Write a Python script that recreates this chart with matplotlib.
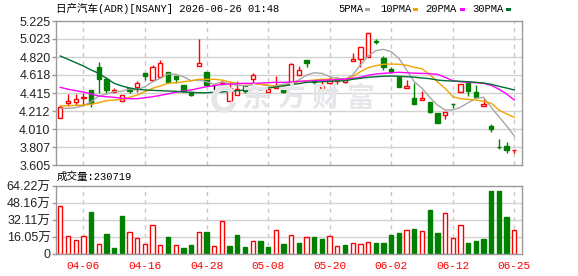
"""
NSANY daily K-line with moving averages and volume
"""

import matplotlib
matplotlib.use('Agg')
import matplotlib.pyplot as plt
from matplotlib.patches import Rectangle, Arc
import numpy as np

W, H = 578, 276

title = '日产汽车(ADR)[NSANY] 2026-06-26 01:48'
vol_title = '成交量:230719'

# daily prices (open / high / low / close)
opens = [4.130, 4.299, 4.317, 4.362, 4.449, 4.704, 4.569, 4.430, 4.322, 4.471,
         4.486, 4.640, 4.558, 4.598, 4.651, 4.606, 4.502, 4.418, 4.715, 4.651,
         4.505, 4.520, 4.322, 4.389, 4.490, 4.569, 4.475, 4.430, 4.468, 4.457,
         4.524, 4.614, 4.783, 4.545, 4.468, 4.531, 4.550, 4.539, 4.778, 4.801,
         4.817, 5.000, 4.812, 4.685, 4.598, 4.468, 4.359, 4.333, 4.314, 4.187,
         4.164, 4.290, 4.423, 4.524, 4.426, 4.265, 4.044, 3.807, 3.819, 3.770]
highs = [4.280, 4.404, 4.404, 4.418, 4.449, 4.764, 4.592, 4.468, 4.396, 4.471,
         4.550, 4.640, 4.727, 4.786, 4.651, 4.606, 4.502, 4.418, 5.022, 4.651,
         4.505, 4.561, 4.539, 4.550, 4.490, 4.640, 4.486, 4.460, 4.606, 4.464,
         4.756, 4.719, 4.783, 4.560, 4.561, 4.592, 4.598, 4.580, 4.862, 4.929,
         5.087, 5.022, 4.831, 4.711, 4.598, 4.558, 4.524, 4.437, 4.314, 4.187,
         4.201, 4.290, 4.513, 4.542, 4.502, 4.344, 4.066, 3.897, 3.860, 3.777]
lows = [4.130, 4.269, 4.280, 4.280, 4.258, 4.418, 4.412, 4.430, 4.322, 4.418,
        4.423, 4.561, 4.558, 4.598, 4.535, 4.524, 4.423, 4.385, 4.715, 4.500,
        4.445, 4.437, 4.322, 4.389, 4.412, 4.524, 4.449, 4.430, 4.468, 4.412,
        4.524, 4.614, 4.711, 4.520, 4.468, 4.516, 4.513, 4.530, 4.778, 4.711,
        4.817, 4.966, 4.674, 4.636, 4.486, 4.468, 4.295, 4.333, 4.193, 4.081,
        4.126, 4.243, 4.423, 4.385, 4.373, 4.265, 3.980, 3.782, 3.743, 3.743]
closes = [4.254, 4.325, 4.344, 4.367, 4.299, 4.576, 4.449, 4.445, 4.396, 4.434,
          4.524, 4.610, 4.704, 4.752, 4.535, 4.573, 4.437, 4.396, 4.749, 4.500,
          4.505, 4.530, 4.471, 4.457, 4.441, 4.614, 4.465, 4.457, 4.494, 4.430,
          4.738, 4.674, 4.756, 4.535, 4.494, 4.569, 4.580, 4.576, 4.798, 4.929,
          5.087, 4.990, 4.711, 4.651, 4.486, 4.497, 4.295, 4.359, 4.205, 4.081,
          4.201, 4.286, 4.513, 4.434, 4.373, 4.295, 4.007, 3.802, 3.777, 3.777]

# moving averages as drawn
ma5 = [4.243, 4.243, 4.250, 4.272, 4.317, 4.381, 4.404, 4.430, 4.434, 4.460,
       4.449, 4.486, 4.542, 4.580, 4.629, 4.625, 4.598, 4.553, 4.561, 4.542,
       4.513, 4.542, 4.516, 4.502, 4.497, 4.505, 4.513, 4.494, 4.497, 4.513,
       4.524, 4.561, 4.617, 4.643, 4.636, 4.598, 4.576, 4.569, 4.617, 4.730,
       4.831, 4.891, 4.906, 4.880, 4.805, 4.674, 4.542, 4.468, 4.367, 4.280,
       4.224, 4.224, 4.254, 4.306, 4.355, 4.367, 4.254, 4.148, 4.044, 3.931]
ma10 = [4.270, 4.272, 4.275, 4.278, 4.288, 4.306, 4.329, 4.336, 4.344, 4.367,
        4.392, 4.430, 4.468, 4.494, 4.524, 4.531, 4.542, 4.553, 4.569, 4.569,
        4.569, 4.561, 4.539, 4.524, 4.520, 4.516, 4.513, 4.505, 4.486, 4.494,
        4.516, 4.542, 4.553, 4.561, 4.569, 4.569, 4.565, 4.569, 4.598, 4.655,
        4.700, 4.722, 4.738, 4.741, 4.738, 4.727, 4.704, 4.688, 4.625, 4.542,
        4.468, 4.373, 4.351, 4.344, 4.336, 4.322, 4.299, 4.224, 4.179, 4.142]
ma20 = [4.479, 4.457, 4.441, 4.426, 4.404, 4.381, 4.373, 4.367, 4.355, 4.351,
        4.351, 4.362, 4.373, 4.389, 4.404, 4.423, 4.437, 4.449, 4.468, 4.486,
        4.497, 4.513, 4.516, 4.520, 4.524, 4.524, 4.527, 4.531, 4.535, 4.535,
        4.539, 4.546, 4.550, 4.553, 4.558, 4.561, 4.565, 4.573, 4.580, 4.592,
        4.614, 4.629, 4.636, 4.643, 4.648, 4.643, 4.638, 4.636, 4.632, 4.625,
        4.592, 4.553, 4.542, 4.535, 4.531, 4.524, 4.502, 4.457, 4.404, 4.336]
ma30 = [4.831, 4.794, 4.756, 4.719, 4.674, 4.636, 4.580, 4.524, 4.494, 4.471,
        4.457, 4.449, 4.445, 4.441, 4.437, 4.434, 4.426, 4.423, 4.418, 4.418,
        4.423, 4.426, 4.434, 4.441, 4.449, 4.457, 4.464, 4.471, 4.482, 4.494,
        4.509, 4.520, 4.535, 4.539, 4.542, 4.546, 4.550, 4.553, 4.569, 4.580,
        4.592, 4.598, 4.603, 4.606, 4.603, 4.598, 4.593, 4.584, 4.576, 4.561,
        4.553, 4.550, 4.546, 4.542, 4.535, 4.527, 4.513, 4.490, 4.471, 4.449]

# volume in 万, and whether the bar is red (close above previous close)
volumes = [45.3, 17.0, 12.9, 17.0, 39.7, 9.2, 18.9, 5.7, 35.9, 20.5,
           14.8, 9.2, 27.1, 8.2, 16.0, 8.2, 5.7, 8.2, 20.5, 20.8,
           7.3, 30.9, 7.6, 17.9, 6.6, 12.0, 12.3, 6.6, 22.4, 9.4,
           17.7, 10.4, 15.8, 15.8, 14.2, 17.0, 7.3, 8.5, 10.1, 9.2,
           11.3, 10.4, 10.4, 17.9, 20.1, 22.4, 23.6, 21.4, 41.6, 20.1,
           38.4, 14.8, 27.1, 10.4, 12.3, 14.2, 59.5, 59.5, 35.0, 23.07]
vol_up = [1, 1, 1, 1, 0, 1, 0, 0, 0, 1,
          1, 1, 1, 1, 0, 1, 0, 0, 1, 0,
          1, 1, 0, 0, 0, 1, 0, 0, 1, 0,
          1, 0, 1, 0, 0, 1, 1, 0, 1, 1,
          1, 0, 0, 0, 0, 1, 0, 1, 0, 0,
          1, 1, 1, 0, 0, 0, 0, 0, 0, 1]

price_labels = ['3.605', '3.807', '4.010', '4.212', '4.415', '4.618', '4.820', '5.023', '5.225']
vol_ticks = [0, 16.05, 32.11, 48.16, 64.22]
vol_labels = ['0', '16.05万', '32.11万', '48.16万', '64.22万']
date_idx = [3, 11, 19, 27, 35, 43, 51, 59]
date_labels = ['04-06', '04-16', '04-28', '05-08', '05-20', '06-02', '06-12', '06-25']

ma_names = ['5PMA', '10PMA', '20PMA', '30PMA']
ma_colors = ['#a6a6a6', '#f2a400', '#ff00ff', '#006e33']

RED = '#ff0000'
GREEN = '#008000'
GRID = '#d2d2d2'
FRAME = '#9a9a9a'
WATERMARK = '#e6e6ea'
MONO_CJK = ['Liberation Mono', 'Noto Sans CJK SC']
SANS_CJK = ['Liberation Sans', 'Noto Sans CJK SC']


def px(x, y):
    return x / W, 1 - y / H


def style_axes(ax):
    for s in ax.spines.values():
        s.set_color(FRAME)
        s.set_linewidth(1)
    ax.tick_params(axis='y', length=3, width=1, color=FRAME, pad=1,
                   labelsize=9, labelcolor='#222222')
    ax.set_xlim(-0.56, len(closes))
    for i in date_idx:
        ax.axvline(i, color='#c8c8c8', lw=1, ls=(0, (3, 3)), zorder=0)


fig = plt.figure(figsize=(W / 100, H / 100), dpi=100)
ax = fig.add_axes([56 / W, 1 - 165 / H, 466 / W, 144 / H])
axv = fig.add_axes([56 / W, 1 - 254 / H, 466 / W, 68 / H])

# ---- price panel ----
style_axes(ax)
pt = [float(v) for v in price_labels]
ax.set_ylim(pt[0], pt[-1])
ax.set_yticks(pt)
ax.set_yticklabels(price_labels, family='Liberation Sans')
ax.set_xticks([])
for v in pt[1:-1]:
    ax.axhline(v, color=GRID, lw=1, zorder=0)

# watermark (logo ring + name)
fig.patches.append(Arc(px(224, 99), 20 / W, 22 / H, theta1=60, theta2=330,
                       transform=fig.transFigure, color=WATERMARK, lw=4, zorder=0))
for k, ch in enumerate('东方财富'):
    fig.text(*px(255.5 + 35 * k, 99), ch, ha='center', va='center', fontsize=20,
             weight='bold', family='Noto Sans CJK SC', color=WATERMARK, zorder=0)

x = np.arange(len(closes))
bw = 0.56
for i in x:
    o, h, l, c = opens[i], highs[i], lows[i], closes[i]
    if c > o:
        ax.vlines(i, c, h, color=RED, lw=1, zorder=2)
        ax.vlines(i, l, o, color=RED, lw=1, zorder=2)
        ax.bar(i, c - o, bottom=o, width=bw, facecolor='white', edgecolor=RED,
               lw=1, zorder=2)
    elif c < o:
        ax.vlines(i, l, h, color=GREEN, lw=1, zorder=2)
        ax.bar(i, o - c, bottom=c, width=bw, facecolor=GREEN, edgecolor=GREEN,
               lw=1, zorder=2)
    else:
        ax.vlines(i, l, h, color='black', lw=1, zorder=2)
        ax.hlines(o, i - bw / 2, i + bw / 2, color='black', lw=1, zorder=2)

for series, col in zip([ma5, ma10, ma20, ma30], ma_colors):
    ax.plot(x, series, color=col, lw=1, zorder=3)

# ---- volume panel ----
style_axes(axv)
axv.set_ylim(0, vol_ticks[-1])
axv.set_yticks(vol_ticks)
axv.set_yticklabels(vol_labels, family=SANS_CJK)
for v in vol_ticks[1:-1]:
    axv.axhline(v, color=GRID, lw=1, zorder=0)
for i in x:
    if vol_up[i]:
        axv.bar(i, volumes[i], width=bw, facecolor='white', edgecolor=RED, lw=1, zorder=2)
    else:
        axv.bar(i, volumes[i], width=bw, facecolor=GREEN, edgecolor=GREEN, lw=1, zorder=2)
axv.set_xticks(date_idx)
axv.set_xticklabels(date_labels, family='Liberation Mono', fontsize=8, color=RED)
axv.tick_params(axis='x', length=0, pad=5)

# ---- texts ----
fig.text(*px(56, 8.5), title, va='center', ha='left', fontsize=7.6, family=MONO_CJK)
fig.text(*px(57, 177), vol_title, va='center', ha='left', fontsize=7.6, family=MONO_CJK)

legend_x = [338, 380, 425, 472]
square_x = [365, 413, 460, 506]
for name, col, lx, sx in zip(ma_names, ma_colors, legend_x, square_x):
    fig.text(*px(lx, 9), name, va='center', ha='left', fontsize=7.6, family='Liberation Mono')
    fig.patches.append(Rectangle(px(sx, 11), 5 / W, 3 / H, transform=fig.transFigure,
                                 facecolor=col, edgecolor='none'))

fig.savefig('out.png', dpi=100)
